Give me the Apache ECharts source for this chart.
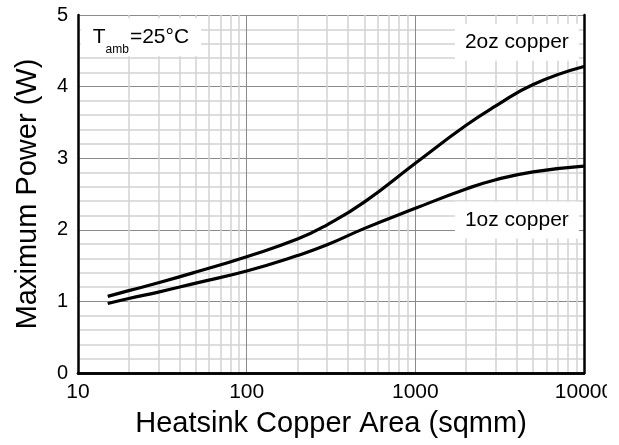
<!DOCTYPE html>
<html>
<head>
<meta charset="utf-8">
<script src="https://cdn.jsdelivr.net/npm/echarts@6/dist/echarts.min.js"></script>
<style>html,body{margin:0;padding:0;background:#fff}#c{width:619px;height:445px}</style>
</head>
<body>
<div id="c"></div>
<script>
// Data
const area = [15, 20, 30, 50, 100, 200, 300, 500, 1000, 2000, 3000, 5000, 10000];
const power2oz = [1.07, 1.15, 1.26, 1.41, 1.625, 1.87, 2.07, 2.39, 2.93, 3.46, 3.73, 4.03, 4.28];
const power1oz = [0.97, 1.04, 1.13, 1.255, 1.425, 1.64, 1.79, 2.02, 2.30, 2.57, 2.70, 2.81, 2.89];
const xTickLabels = ['10', '100', '1000', '10000'];
const yTickLabels = ['0', '1', '2', '3', '4', '5'];
const xMinorGrid = [20,30,40,50,60,70,80,90,200,300,400,500,600,700,800,900,2000,3000,4000,5000,6000,7000,8000,9000];
const annotations = [
  {name: '2oz', coord: [4000, 4.62], text: '2oz copper'},
  {name: '1oz', coord: [4000, 2.137], text: '1oz copper'},
  {name: 'tamb', coord: [23.6, 4.69], text: '{m|T}{s|amb}{m|=25°C}'}
];

const FONT = '"Liberation Sans", Arial, sans-serif';
const chart = echarts.init(document.getElementById('c'), null, {renderer: 'canvas'});

function pair(xs, ys) { return xs.map((x, i) => [x, ys[i]]); }

const option = {
  animation: false,
  backgroundColor: '#fff',
  textStyle: {fontFamily: FONT, color: '#000'},
  grid: {left: 78, top: 15, right: 35, bottom: 72, containLabel: false},
  xAxis: [{
    type: 'log', logBase: 10, min: 10, max: 10000,
    name: 'Heatsink Copper Area (sqmm)', nameLocation: 'middle', nameGap: 36,
    nameTextStyle: {fontSize: 29, fontFamily: FONT, color: '#000'},
    axisLine: {show: true, onZero: false, lineStyle: {color: '#000', width: 2.5}},
    axisTick: {show: false},
    axisLabel: {fontSize: 21, fontFamily: FONT, color: '#000', margin: 9,
      formatter: v => { const s = String(Math.round(v)); return xTickLabels.includes(s) ? s : ''; }},
    splitLine: {show: true, lineStyle: {color: '#8a8a8a', width: 1}}
  }, {
    type: 'log', logBase: 10, min: 10, max: 10000, position: 'top',
    axisLine: {show: true, lineStyle: {color: '#000', width: 2.5}},
    axisTick: {show: false}, axisLabel: {show: false}, splitLine: {show: false}
  }],
  yAxis: [{
    type: 'value', min: 0, max: 5, interval: 1,
    name: 'Maximum Power (W)', nameLocation: 'middle', nameGap: 36,
    nameTextStyle: {fontSize: 29, fontFamily: FONT, color: '#000'},
    axisLine: {show: true, onZero: false, lineStyle: {color: '#000', width: 2.5}},
    axisTick: {show: false},
    axisLabel: {fontSize: 20, fontFamily: FONT, color: '#000', margin: 10,
      formatter: v => { const s = String(Math.round(v)); return yTickLabels.includes(s) ? s : ''; }},
    splitLine: {show: true, lineStyle: {color: '#8a8a8a', width: 1}},
    minorTick: {show: false, splitNumber: 5},
    minorSplitLine: {show: true, lineStyle: {color: '#d2d2d2', width: 1.5}}
  }, {
    type: 'value', min: 0, max: 5, position: 'right',
    axisLine: {show: true, lineStyle: {color: '#000', width: 2.5}},
    axisTick: {show: false}, axisLabel: {show: false}, splitLine: {show: false}
  }],
  series: [
    {
      name: 'minor-grid', type: 'line', data: [], z: 0, silent: true,
      markLine: {
        z: 0, silent: true, symbol: ['none', 'none'], animation: false,
        label: {show: false},
        lineStyle: {color: '#d2d2d2', width: 1.5, type: 'solid'},
        data: xMinorGrid.map(v => ({xAxis: v}))
      }
    },
    {
      name: '2oz copper', type: 'line', data: pair(area, power2oz), smooth: 0.5,
      showSymbol: false, z: 3, lineStyle: {color: '#000', width: 3.2},
      markPoint: {
        z: 4, silent: true, symbol: 'circle', symbolSize: 1, itemStyle: {color: 'rgba(0,0,0,0)'},
        label: {show: true, position: 'inside', color: '#000', fontFamily: FONT, fontSize: 21,
          backgroundColor: '#fff'},
        data: annotations.map(a => {
          const item = {name: a.name, coord: a.coord, value: a.text};
          if (a.name === 'tamb') {
            item.label = {formatter: a.text, padding: [1, 12, 1, 12],
              rich: {
                m: {fontSize: 21, fontFamily: FONT, color: '#000'},
                s: {fontSize: 12, fontFamily: FONT, color: '#000', verticalAlign: 'top', padding: [24, 1, 0, 0]}
              }};
          } else {
            item.label = {formatter: a.text, padding: [8, 10, 8, 10]};
          }
          return item;
        })
      }
    },
    {
      name: '1oz copper', type: 'line', data: pair(area, power1oz), smooth: 0.5,
      showSymbol: false, z: 3, lineStyle: {color: '#000', width: 3.2}
    }
  ],
  graphic: [{
    type: 'rect', z: 100, left: 607, top: 376,
    shape: {width: 12, height: 30}, style: {fill: '#fff'}
  }]
};
chart.setOption(option);
</script>
</body>
</html>
